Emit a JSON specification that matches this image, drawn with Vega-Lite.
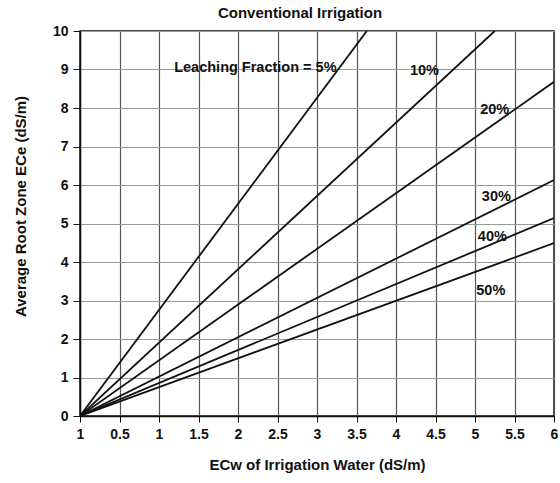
{
  "$schema": "https://vega.github.io/schema/vega-lite/v6.json",
  "autosize": "none",
  "width": 474,
  "height": 385,
  "padding": {"left": 80, "top": 31, "right": 6, "bottom": 67},
  "background": "white",
  "config": {
    "font": "Liberation Sans",
    "view": {"stroke": "#111", "strokeWidth": 1.5},
    "axis": {"labelFont": "Liberation Sans", "titleFont": "Liberation Sans", "labelFontWeight": "bold", "titleFontWeight": "bold", "labelColor": "#111", "titleColor": "#111", "labelFontSize": 14, "titleFontSize": 15, "domainColor": "#111", "tickColor": "#111", "domainWidth": 1.5, "labelOverlap": false}
  },
  "title": {"text": "Conventional Irrigation", "font": "Liberation Sans", "fontSize": 15, "fontWeight": "bold", "color": "#111", "offset": 3, "dx": -17},
  "datasets": {
    "lines": [
      {"lf": "5%", "ecw": 0, "ece": 0}, {"lf": "5%", "ecw": 3.63, "ece": 10},
      {"lf": "10%", "ecw": 0, "ece": 0}, {"lf": "10%", "ecw": 5.25, "ece": 10},
      {"lf": "20%", "ecw": 0, "ece": 0}, {"lf": "20%", "ecw": 6, "ece": 8.68},
      {"lf": "30%", "ecw": 0, "ece": 0}, {"lf": "30%", "ecw": 6, "ece": 6.13},
      {"lf": "40%", "ecw": 0, "ece": 0}, {"lf": "40%", "ecw": 6, "ece": 5.14},
      {"lf": "50%", "ecw": 0, "ece": 0}, {"lf": "50%", "ecw": 6, "ece": 4.49}
    ],
    "labels": [
      {"text": "Leaching Fraction = 5%", "ecw": 2.22, "ece": 9.05},
      {"text": "10%", "ecw": 4.36, "ece": 8.95},
      {"text": "20%", "ecw": 5.25, "ece": 7.95},
      {"text": "30%", "ecw": 5.27, "ece": 5.7},
      {"text": "40%", "ecw": 5.22, "ece": 4.65},
      {"text": "50%", "ecw": 5.2, "ece": 3.25}
    ]
  },
  "layer": [
    {
      "data": {"name": "lines"},
      "mark": {"type": "line", "color": "#111", "strokeWidth": 1.8, "clip": true},
      "encoding": {
        "x": {"field": "ecw", "type": "quantitative", "scale": {"domain": [0, 6], "nice": false},
          "axis": {"tickCount": 12, "format": ".1~f", "labelExpr": "datum.value == 0 ? '1' : datum.label", "title": "ECw of Irrigation Water (dS/m)", "gridColor": "#555", "gridOpacity": 1, "gridWidth": 1.2, "tickSize": 6, "labelPadding": 5, "titlePadding": 16, "labelFlush": false, "labelOverlap": false}},
        "y": {"field": "ece", "type": "quantitative", "scale": {"domain": [0, 10], "nice": false},
          "axis": {"tickCount": 10, "format": "d", "title": "Average Root Zone ECe (dS/m)", "titleX": -60, "titleY": 175, "titleBaseline": "middle", "gridColor": "#999", "gridOpacity": 1, "gridWidth": 1.2, "tickSize": 7, "labelPadding": 5, "labelFlush": false, "labelOverlap": false}},
        "detail": {"field": "lf"}
      }
    },
    {
      "data": {"name": "labels"},
      "mark": {"type": "text", "font": "Liberation Sans", "fontWeight": "bold", "fontSize": 14.5, "color": "#111"},
      "encoding": {
        "x": {"field": "ecw", "type": "quantitative"},
        "y": {"field": "ece", "type": "quantitative"},
        "text": {"field": "text"}
      }
    }
  ]
}
